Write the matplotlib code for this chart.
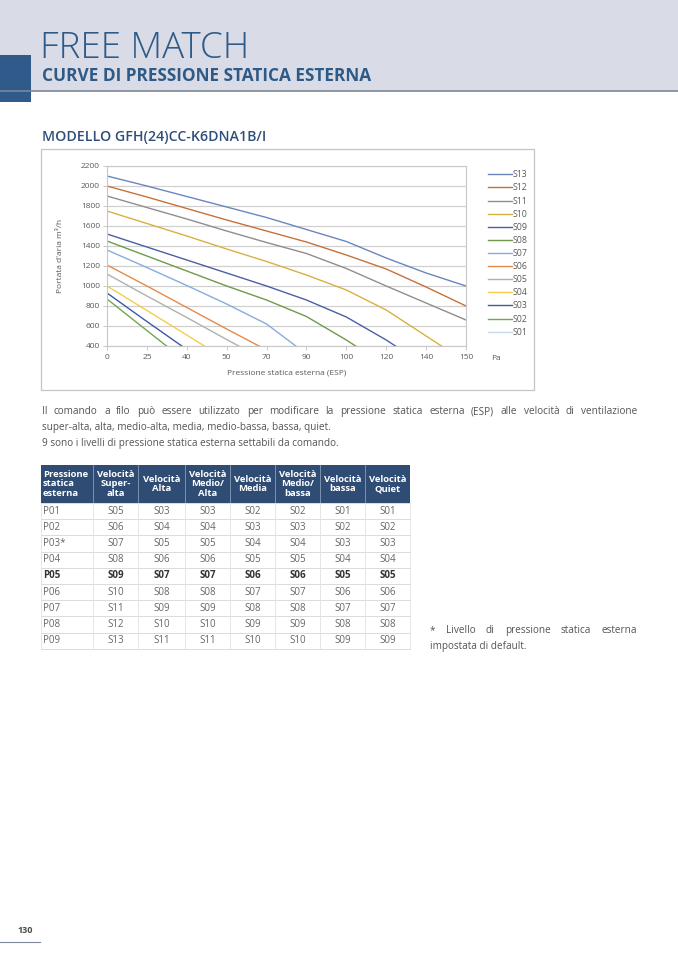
import matplotlib.pyplot as plt
import numpy as np
from matplotlib.patches import Rectangle

plt.rcParams['font.family'] = ['Open Sans', 'DejaVu Sans']

W, H = 678, 959
nan = np.nan

# ---------------- chart data ----------------
pressure_ticks = ["0", "25", "40", "50", "70", "90", "100", "120", "140", "150"]
series_names = ["S13", "S12", "S11", "S10", "S09", "S08", "S07",
                "S06", "S05", "S04", "S03", "S02", "S01"]
s13 = [2100, 2000, 1895, 1790, 1685, 1565, 1445, 1280, 1130, 1000]
s12 = [2000, 1890, 1775, 1660, 1550, 1440, 1310, 1170, 990, 800]
s11 = [1900, 1785, 1670, 1550, 1435, 1325, 1175, 1000, 830, 660]
s10 = [1750, 1625, 1500, 1370, 1245, 1110, 960, 760, 500, 240]
s09 = [1520, 1390, 1260, 1130, 1000, 860, 690, 460, 200, nan]
s08 = [1450, 1300, 1150, 1000, 860, 695, 460, 200, nan, nan]
s07 = [1360, 1185, 1005, 820, 620, 320, nan, nan, nan, nan]
s06 = [1210, 1000, 785, 570, 360, nan, nan, nan, nan, nan]
s05 = [1120, 900, 685, 465, 250, nan, nan, nan, nan, nan]
s04 = [1000, 755, 510, 260, nan, nan, nan, nan, nan, nan]
s03 = [930, 645, 365, nan, nan, nan, nan, nan, nan, nan]
s02 = [870, 555, 240, nan, nan, nan, nan, nan, nan, nan]
s01 = [nan] * 10
series_values = [s13, s12, s11, s10, s09, s08, s07, s06, s05, s04, s03, s02, s01]
series_colors = ["#6A86BC", "#C8703A", "#8E8E8E", "#D8B040", "#4A5EA6", "#6E9A48",
                 "#86ACDC", "#E58A4A", "#B0B0B0", "#F5CC4A", "#3E58A8", "#70A850", "#C8D8EE"]

# ---------------- table data ----------------
table_header = ["Pressione\nstatica\nesterna", "Velocità\nSuper-\nalta", "Velocità\nAlta",
                "Velocità\nMedio/\nAlta", "Velocità\nMedia", "Velocità\nMedio/\nbassa",
                "Velocità\nbassa", "Velocità\nQuiet"]
table_rows = [
    ["P01", "S05", "S03", "S03", "S02", "S02", "S01", "S01"],
    ["P02", "S06", "S04", "S04", "S03", "S03", "S02", "S02"],
    ["P03*", "S07", "S05", "S05", "S04", "S04", "S03", "S03"],
    ["P04", "S08", "S06", "S06", "S05", "S05", "S04", "S04"],
    ["P05", "S09", "S07", "S07", "S06", "S06", "S05", "S05"],
    ["P06", "S10", "S08", "S08", "S07", "S07", "S06", "S06"],
    ["P07", "S11", "S09", "S09", "S08", "S08", "S07", "S07"],
    ["P08", "S12", "S10", "S10", "S09", "S09", "S08", "S08"],
    ["P09", "S13", "S11", "S11", "S10", "S10", "S09", "S09"],
]
bold_row = 4

fig = plt.figure(figsize=(W / 100, H / 100), dpi=100)
fig.patch.set_facecolor("white")

# page layer in pixel coordinates
page = fig.add_axes([0, 0, 1, 1])
page.set_xlim(0, W)
page.set_ylim(H, 0)
page.axis("off")

navy = "#2E5A88"
grey_txt = "#555555"

# header band
page.add_patch(Rectangle((0, 0), W, 91, fc="#D9DCE6", ec="none"))
page.plot([0, W], [91, 91], color="#7D8899", lw=1.2)
page.add_patch(Rectangle((0, 55), 31, 47, fc="#2F5A89", ec="none"))
page.text(40, 58, "FREE MATCH", fontsize=26.5, fontweight="light", color=navy,
          va="baseline")
page.text(42, 81, "CURVE DI PRESSIONE STATICA ESTERNA", fontsize=12.4, fontweight="bold",
          color=navy, va="baseline")
page.text(42, 141, "MODELLO GFH(24)CC-K6DNA1B/I", fontsize=10.2, fontweight="semibold",
          color="#2F4F7A", va="baseline")

# chart frame
page.add_patch(Rectangle((41, 149), 493, 241, fc="white", ec="#C4C4C4", lw=0.9))

renderer = fig.canvas.get_renderer()


def justify(words, x0, x1, y, **kw):
    objs = [page.text(0, y, w, va="baseline", **kw) for w in words]
    widths = [o.get_window_extent(renderer).width for o in objs]
    gap = (x1 - x0 - sum(widths)) / (len(words) - 1)
    x = x0
    for o, wd in zip(objs, widths):
        o.set_x(x)
        x += wd + gap


para1 = ("Il comando a filo può essere utilizzato per modificare la pressione statica "
         "esterna (ESP) alle velocità di ventilazione")
para2 = "super-alta, alta, medio-alta, media, medio-bassa, bassa, quiet."
para3 = "9 sono i livelli di pressione statica esterna settabili da comando."
justify(para1.split(), 42, 637, 414, fontsize=7.2, color=grey_txt)
page.text(42, 430, para2, fontsize=7.2, color=grey_txt, va="baseline")
page.text(42, 446, para3, fontsize=7.2, color=grey_txt, va="baseline")

note1 = "* Livello di pressione statica esterna"
note2 = "impostata di default."
justify(note1.split(), 430, 637, 633, fontsize=7.2, color=grey_txt)
page.text(430, 649, note2, fontsize=7.2, color=grey_txt, va="baseline")

# page number
page.text(17, 933, "130", fontsize=6.5, fontweight="bold", color="#4A4A4A", va="baseline")
page.plot([0, 40], [942, 942], color="#7D8899", lw=0.8)

# ---------------- table ----------------
col_edges = [41, 93, 138, 185, 230, 275, 320, 365, 410]
head_top, head_bot = 465, 503
row_h = 16.2
page.add_patch(Rectangle((col_edges[0], head_top), col_edges[-1] - col_edges[0],
                         head_bot - head_top, fc="#2F4C74", ec="none"))
for xe in col_edges[1:-1]:
    page.plot([xe, xe], [head_top, head_bot], color="#8A9BB5", lw=0.6)
for j, lab in enumerate(table_header):
    if j == 0:
        page.text(col_edges[0] + 2, (head_top + head_bot) / 2, lab, fontsize=6.8,
                  fontweight="bold", color="white", ha="left", va="center", linespacing=1.05)
    else:
        page.text((col_edges[j] + col_edges[j + 1]) / 2, (head_top + head_bot) / 2, lab,
                  fontsize=6.8, fontweight="bold", color="white", ha="center", va="center",
                  linespacing=1.05, multialignment="center")

n_rows = len(table_rows)
table_bot = head_bot + n_rows * row_h
for i in range(n_rows + 1):
    yy = head_bot + i * row_h
    page.plot([col_edges[0], col_edges[-1]], [yy, yy], color="#D6D6D6", lw=0.6)
for xe in col_edges:
    page.plot([xe, xe], [head_bot, table_bot], color="#E2E2E2", lw=0.6)
for i, row in enumerate(table_rows):
    yc = head_bot + (i + 0.5) * row_h
    wt = "bold" if i == bold_row else "normal"
    col = "#333333" if i == bold_row else "#666666"
    for j, val in enumerate(row):
        if j == 0:
            page.text(col_edges[0] + 2, yc, val, fontsize=7, fontweight=wt, color=col,
                      ha="left", va="center")
        else:
            page.text((col_edges[j] + col_edges[j + 1]) / 2, yc, val, fontsize=7,
                      fontweight=wt, color=col, ha="center", va="center")

# ---------------- chart ----------------
px0, py0, pw, ph = 107, 166, 359, 180
ax = fig.add_axes([px0 / W, 1 - (py0 + ph) / H, pw / W, ph / H])
ax.set_facecolor("white")
xpos = np.arange(len(pressure_ticks))
handles = []
for name, vals, c in zip(series_names, series_values, series_colors):
    ln, = ax.plot(xpos, vals, color=c, lw=1.0, label=name)
    handles.append(ln)
ax.set_xlim(0, len(pressure_ticks) - 1)
ax.set_ylim(400, 2200)
ax.set_yticks(np.arange(400, 2201, 200))
ax.set_xticks(xpos)
ax.set_xticklabels(pressure_ticks)
ax.yaxis.grid(True, color="#D0D0D0", lw=0.9)
ax.set_axisbelow(True)
for sp in ax.spines.values():
    sp.set_color("#C8C8C8")
    sp.set_linewidth(0.8)
ax.tick_params(axis="both", labelsize=6, colors="#595959", length=3, width=0.6)
ax.tick_params(axis="x", pad=3, color="#BFBFBF")
ax.tick_params(axis="y", pad=2, color="#BFBFBF")
ax.set_xlabel("Pressione statica esterna (ESP)", fontsize=6, color="#595959", labelpad=6)
ax.set_ylabel("Portata d'aria m³/h", fontsize=6, color="#595959", labelpad=12)
ax.text(1.083, -0.05, "Pa", transform=ax.transAxes, fontsize=6, color="#595959",
        ha="center", va="top")

fig.legend(handles=handles, loc="upper left", bbox_to_anchor=(484 / W, 1 - 166 / H),
           frameon=False, fontsize=6.3, handlelength=2.7, handletextpad=0.1,
           labelspacing=0.47, borderpad=0, labelcolor="#595959")

fig.savefig("out.png", dpi=100, facecolor="white")
